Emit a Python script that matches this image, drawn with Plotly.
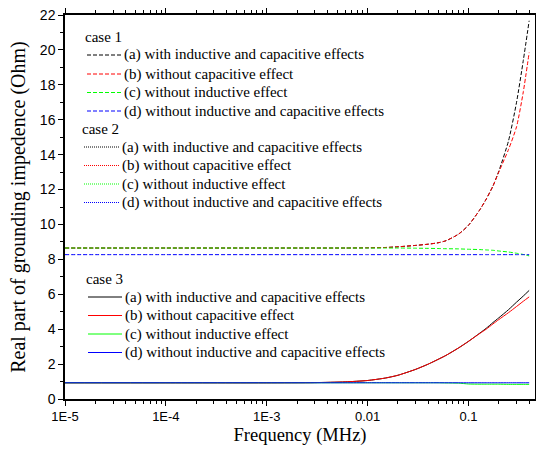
import plotly.graph_objects as go

# ---------------- data ----------------
freq = [1e-5, 1e-4, 1e-3, 0.003, 0.006, 0.01, 0.015, 0.02, 0.03, 0.04, 0.05,
        0.06, 0.08, 0.1, 0.13, 0.15, 0.175, 0.2, 0.25, 0.3, 0.35, 0.4]

c1_a = [8.65, 8.65, 8.65, 8.65, 8.65, 8.66, 8.68, 8.72, 8.80, 8.87, 8.95,
        9.07, 9.45, 9.95, 10.85, 11.45, 12.2, 13.05, 14.8, 17.0, 19.4, 21.67]
c1_b = [8.65, 8.65, 8.65, 8.65, 8.65, 8.66, 8.68, 8.72, 8.80, 8.87, 8.95,
        9.07, 9.45, 9.95, 10.85, 11.45, 12.2, 13.0, 14.3, 15.6, 17.6, 19.85]
c1_c = [8.65, 8.65, 8.65, 8.65, 8.65, 8.65, 8.65, 8.65, 8.64, 8.63, 8.62,
        8.61, 8.60, 8.58, 8.56, 8.54, 8.52, 8.48, 8.42, 8.35, 8.28, 8.20]
c1_d = [8.27] * 22

c3_a = [0.93, 0.93, 0.93, 0.94, 0.98, 1.06, 1.20, 1.36, 1.70, 2.00, 2.27,
        2.50, 2.93, 3.30, 3.78, 4.05, 4.38, 4.65, 5.12, 5.55, 5.90, 6.22]
c3_b = [0.93, 0.93, 0.93, 0.94, 0.98, 1.06, 1.20, 1.36, 1.70, 2.00, 2.27,
        2.50, 2.93, 3.30, 3.76, 4.00, 4.30, 4.55, 4.95, 5.30, 5.60, 5.85]
c3_c = [0.93, 0.93, 0.93, 0.93, 0.93, 0.93, 0.93, 0.93, 0.93, 0.93, 0.93,
        0.92, 0.91, 0.86, 0.85, 0.85, 0.85, 0.85, 0.84, 0.84, 0.84, 0.84]
c3_d = [0.93] * 22

labels = ["(a) with inductive and capacitive effects",
          "(b) without capacitive effect",
          "(c) without inductive effect",
          "(d) without inductive and capacitive effects"]
case_titles = ["case 1", "case 2", "case 3"]
colors = ["#000000", "#ff0000", "#00ff00", "#0000ff"]
case_dashes = ["4px,2px", "1px,1px", "solid"]

x_tickvals = [1e-5, 1e-4, 1e-3, 1e-2, 1e-1]
x_ticktext = ["1E-5", "1E-4", "1E-3", "0.01", "0.1"]

# ---------------- figure ----------------
# case 2 curves are not distinguishable in the plot (only in the legend)
plotted = [
    (0, [c1_a, c1_b, c1_c, c1_d]),
    (2, [c3_a, c3_b, c3_c, c3_d]),
]

fig = go.Figure()
for ci, series in plotted:
    for si, ys in enumerate(series):
        fig.add_trace(go.Scatter(
            x=freq, y=ys, mode="lines", name=f"{case_titles[ci]} {labels[si]}",
            line=dict(color=colors[si], width=1, dash=case_dashes[ci], shape="spline", smoothing=0.6),
            showlegend=False, hoverinfo="skip"))

# plot-area geometry in pixels (for placing the hand-made legend)
W_FIG, H_FIG = 536, 450
L, T, R, B = 65, 15, 1, 51
PW, PH = W_FIG - L - R, H_FIG - T - B

def px(xp):
    return (xp - L) / PW

def py(yp):
    return 1 - (yp - T) / PH

serif = "Liberation Serif, Times New Roman, serif"
sans = "Liberation Sans, Arial, sans-serif"

# legend layout: (title y, title x, row ys, line x0, line x1, text x)
legend_layout = [
    (37, 84, [55, 74, 92.5, 111], 87, 121, 123),
    (129, 81, [147, 165.5, 184, 202.5], 84, 119, 120.5),
    (279, 85, [297, 315.5, 334, 352.5], 88, 122, 124),
]
shapes = []
annotations = []
for ci, (ty, tx, rows, x0, x1, txx) in enumerate(legend_layout):
    annotations.append(dict(text=case_titles[ci], x=px(tx), y=py(ty), xref="paper", yref="paper",
                            xanchor="left", yanchor="middle", showarrow=False, borderpad=0,
                            font=dict(family=serif, size=15, color="#000000")))
    for si, ry in enumerate(rows):
        shapes.append(dict(type="line", xref="paper", yref="paper", x0=px(x0), x1=px(x1),
                           y0=py(ry), y1=py(ry),
                           line=dict(color=colors[si], width=1, dash=case_dashes[ci])))
        annotations.append(dict(text=labels[si], x=px(txx), y=py(ry), xref="paper", yref="paper",
                                xanchor="left", yanchor="middle", showarrow=False, borderpad=0,
                                font=dict(family=serif, size=15, color="#000000")))

minor_x = [k * 10.0 ** e for e in range(-5, 0) for k in range(2, 10) if k * 10.0 ** e < 0.46]

fig.update_layout(
    width=W_FIG, height=H_FIG,
    margin=dict(l=L, r=R, t=T, b=B),
    paper_bgcolor="white", plot_bgcolor="white",
    showlegend=False,
    shapes=shapes, annotations=annotations,
)
fig.update_xaxes(
    type="log", range=[-5, -0.34], automargin=False,
    tickmode="array", tickvals=x_tickvals, ticktext=x_ticktext,
    ticks="outside", ticklen=5, tickwidth=1, tickcolor="#000000",
    minor=dict(tickmode="array", tickvals=minor_x, ticks="outside", ticklen=3,
               tickwidth=1, tickcolor="#000000", showgrid=False),
    showline=True, linecolor="#000000", linewidth=1.5, mirror="allticks",
    showgrid=False, zeroline=False,
    tickfont=dict(family=sans, size=13, color="#000000"),
    title=dict(text="Frequency (MHz)", font=dict(family=serif, size=18.5, color="#000000"), standoff=5),
)
fig.update_yaxes(
    range=[0, 22], dtick=2, tick0=0, automargin=False,
    ticks="outside", ticklen=5, tickwidth=1, tickcolor="#000000",
    minor=dict(dtick=1, ticks="outside", ticklen=3, tickwidth=1, tickcolor="#000000", showgrid=False),
    showline=True, linecolor="#000000", linewidth=1.5, mirror="allticks",
    showgrid=False, zeroline=False,
    tickfont=dict(family=sans, size=14, color="#000000"),
    title=dict(text="Real part of grounding impedence (Ohm)",
               font=dict(family=serif, size=20, color="#000000"), standoff=9),
)

fig.write_html("out.html", config={"displayModeBar": False},
               post_script="document.body.style.margin='0';document.body.style.padding='0';")
